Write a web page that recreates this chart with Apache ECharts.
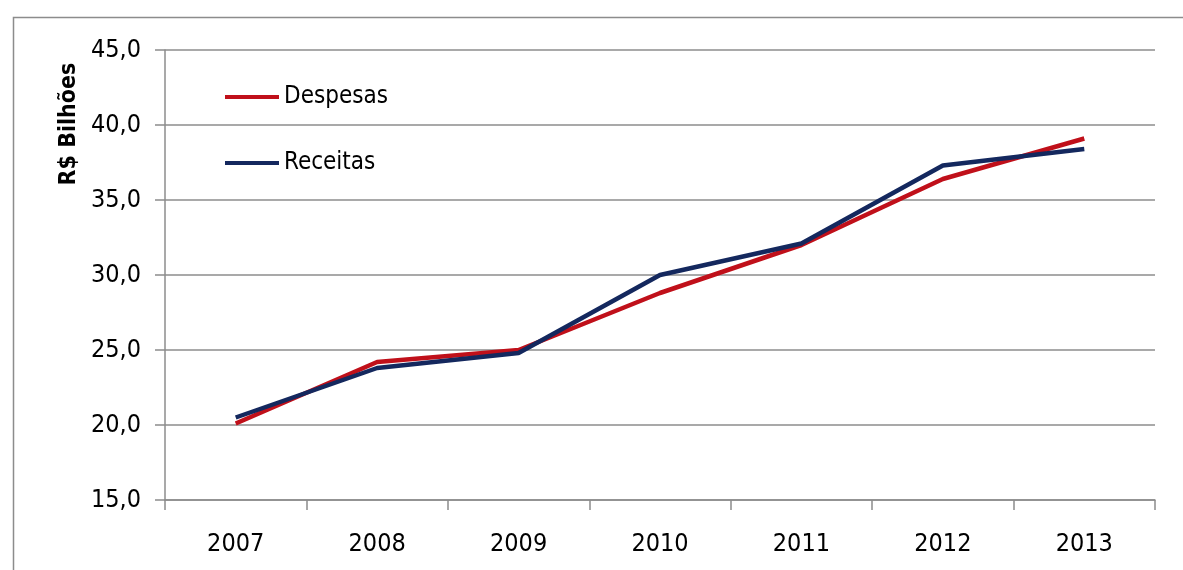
<!DOCTYPE html>
<html>
<head>
<meta charset="utf-8">
<style>
  html, body { margin: 0; padding: 0; background: #fff; }
  #chart { width: 1183px; height: 570px; }
</style>
<script src="https://cdn.jsdelivr.net/npm/echarts@6/dist/echarts.min.js"></script>
</head>
<body>
<div id="chart"></div>
<script>
// Anos e valores (R$ bilhões)
const years = ['2007', '2008', '2009', '2010', '2011', '2012', '2013'];
const despesas = [20.1, 24.2, 25.0, 28.8, 32.0, 36.4, 39.1];
const receitas = [20.5, 23.8, 24.8, 30.0, 32.1, 37.3, 38.4];
const yTickValues = [15, 20, 25, 30, 35, 40, 45];
const yTickLabels = ['15,0', '20,0', '25,0', '30,0', '35,0', '40,0', '45,0'];
const yAxisTitle = 'R$ Bilhões';

const FONT = '"Liberation Sans Narrow", "DejaVu Sans Condensed", "Liberation Sans", sans-serif';
const GRAY = '#8c8c8c';
const RED = '#c0101a';
const NAVY = '#14285e';

const chart = echarts.init(document.getElementById('chart'), null, { renderer: 'canvas' });

function legendBox(name, top) {
  return {
    data: [name],
    left: 225,
    top: top,
    padding: 0,
    icon: 'rect',
    itemWidth: 54,
    itemHeight: 4,
    selectedMode: false,
    textStyle: { fontFamily: FONT, fontSize: 24, color: '#000', lineHeight: 26, padding: [0, 0, 0, 0] }
  };
}

chart.setOption({
  animation: false,
  backgroundColor: '#fff',
  graphic: [
    {
      type: 'rect',
      left: 11, top: 15,
      shape: { width: 1300, height: 700 },
      style: { fill: 'none', stroke: GRAY, lineWidth: 1.5 },
      silent: true
    },
    {
      // vertical axis title
      type: 'text',
      x: 69, y: 124,
      rotation: Math.PI / 2,
      style: {
        text: yAxisTitle,
        fontFamily: '"DejaVu Sans Condensed", "Liberation Sans", sans-serif',
        fontWeight: 'bold', fontSize: 23, fill: '#000',
        textAlign: 'center', textVerticalAlign: 'middle'
      },
      silent: true
    }
  ],
  legend: [legendBox('Despesas', 84), legendBox('Receitas', 150)],
  grid: { left: 165, right: 28, top: 50, bottom: 70, containLabel: false },
  xAxis: {
    type: 'category',
    data: years,
    boundaryGap: true,
    axisLine: { show: true, lineStyle: { color: GRAY, width: 1.5 } },
    axisTick: { show: true, length: 10, inside: false, lineStyle: { color: GRAY, width: 1.5 } },
    axisLabel: { fontFamily: FONT, fontSize: 25, color: '#000', margin: 32 },
    splitLine: { show: false }
  },
  yAxis: {
    type: 'value',
    min: 15, max: 45, interval: 5,
    axisLine: { show: true, lineStyle: { color: GRAY, width: 1.5 } },
    axisTick: { show: true, length: 10, inside: false, lineStyle: { color: GRAY, width: 1.5 } },
    axisLabel: {
      fontFamily: FONT, fontSize: 25, color: '#000', margin: 24,
      formatter: v => yTickLabels[yTickValues.indexOf(v)]
    },
    splitLine: { show: true, lineStyle: { color: GRAY, width: 1.5 } }
  },
  series: [
    {
      name: 'Despesas', type: 'line', data: despesas,
      symbol: 'none', color: RED,
      lineStyle: { width: 4.5, color: RED }, z: 3
    },
    {
      name: 'Receitas', type: 'line', data: receitas,
      symbol: 'none', color: NAVY,
      lineStyle: { width: 4.5, color: NAVY }, z: 4
    }
  ]
});
</script>
</body>
</html>
